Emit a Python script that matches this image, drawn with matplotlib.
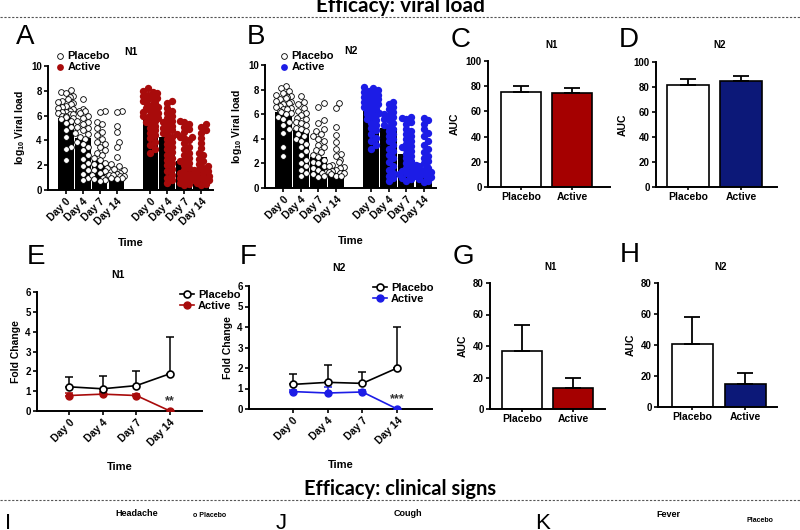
import numpy as np
import matplotlib
matplotlib.use("Agg")
import matplotlib.pyplot as plt
from matplotlib.lines import Line2D

plt.rcParams["font.family"] = ["Liberation Sans", "DejaVu Sans"]
plt.rcParams["font.weight"] = "bold"
plt.rcParams["mathtext.fontset"] = "custom"
plt.rcParams["mathtext.rm"] = "Liberation Sans:bold"
plt.rcParams["mathtext.bf"] = "Liberation Sans:bold"

W, H = 800, 530

days = ["Day 0", "Day 4", "Day 7", "Day 14"]
groups = ["Placebo", "Active"]

# viral load per subject (log10), panels A (N1) and B (N2)
n1_placebo = [
    [8.1, 7.9, 7.8, 7.6, 7.5, 7.3, 7.2, 7.1, 7.0, 6.9, 6.8, 6.7, 6.6, 6.5, 6.4, 6.3, 6.3, 6.2, 6.1, 6.1,
     6.0, 6.0, 5.9, 5.8, 5.7, 5.6, 5.4, 5.1, 4.8, 4.3, 3.5, 3.3, 2.4],
    [7.3, 6.5, 6.4, 6.4, 6.2, 6.0, 5.8, 5.6, 5.5, 5.3, 5.1, 5.0, 4.8, 4.6, 4.5, 4.3, 4.1, 3.9, 3.7, 3.5,
     3.2, 2.8, 2.5, 2.2, 1.9, 1.6, 1.3, 1.0, 0.8],
    [6.4, 6.3, 5.5, 5.3, 5.0, 4.7, 4.4, 4.1, 3.9, 3.7, 3.5, 3.2, 3.0, 2.8, 2.6, 2.4, 2.2, 2.1, 1.9, 1.8,
     1.6, 1.5, 1.4, 1.2, 1.1, 1.0, 0.9, 0.8, 0.7],
    [6.4, 6.3, 5.2, 4.7, 3.9, 3.5, 2.7, 2.1, 1.9, 1.7, 1.6, 1.4, 1.3, 1.2, 1.2, 1.1, 1.1, 1.0, 1.0, 0.9],
]
n1_active = [
    [8.2, 8.0, 7.9, 7.8, 7.7, 7.6, 7.5, 7.4, 7.3, 7.2, 7.1, 7.0, 6.9, 6.8, 6.7, 6.6, 6.5, 6.4, 6.3, 6.2,
     6.1, 6.0, 6.0, 5.9, 5.8, 5.7, 5.6, 5.5, 5.4, 5.2, 5.0, 4.8, 4.6, 4.4, 4.2, 3.9, 3.6, 3.3, 3.0],
    [7.2, 7.0, 6.6, 6.4, 6.2, 6.0, 5.8, 5.6, 5.5, 5.4, 5.2, 5.0, 4.9, 4.8, 4.6, 4.5, 4.3, 4.1, 3.9, 3.7,
     3.5, 3.3, 3.1, 2.8, 2.6, 2.4, 2.2, 2.0, 1.7, 1.5, 1.2, 1.0, 0.8, 0.6],
    [5.6, 5.5, 5.3, 5.1, 4.9, 4.7, 4.5, 4.3, 4.3, 4.2, 4.0, 3.8, 3.5, 3.3, 3.0, 2.8, 2.6, 2.4, 2.3, 2.2,
     2.0, 1.8, 1.6, 1.4, 1.3, 1.2, 1.0, 0.9, 0.8, 0.6, 0.5, 0.4],
    [5.3, 5.1, 4.8, 4.6, 4.2, 3.8, 3.4, 3.0, 2.8, 2.5, 2.3, 2.1, 1.9, 1.8, 1.7, 1.6, 1.5, 1.4, 1.3, 1.2,
     1.1, 1.0, 1.0, 0.9, 0.8, 0.8, 0.7, 0.6, 0.5, 0.4],
]
n2_placebo = [
    [8.3, 8.1, 7.9, 7.7, 7.6, 7.5, 7.4, 7.3, 7.2, 7.1, 7.0, 6.9, 6.8, 6.7, 6.6, 6.5, 6.4, 6.4, 6.3, 6.2,
     6.1, 6.0, 5.8, 5.6, 5.4, 5.1, 4.8, 4.5, 3.3, 2.6],
    [7.5, 7.0, 6.8, 6.5, 6.3, 6.1, 5.9, 5.7, 5.6, 5.4, 5.3, 5.1, 4.9, 4.8, 4.6, 4.4, 4.2, 4.0, 3.8, 3.6,
     3.3, 3.0, 2.7, 2.3, 2.0, 1.8, 1.5, 1.2, 1.0],
    [6.9, 6.6, 5.5, 5.3, 4.8, 4.6, 4.4, 4.2, 4.0, 3.8, 3.5, 3.3, 3.1, 2.9, 2.7, 2.5, 2.3, 2.1, 2.0, 1.8,
     1.6, 1.5, 1.3, 1.2, 1.1, 1.0, 0.9],
    [6.9, 6.5, 5.0, 4.3, 3.7, 3.2, 2.8, 2.6, 2.3, 2.1, 1.9, 1.8, 1.7, 1.6, 1.5, 1.4, 1.3, 1.2, 1.2, 1.1,
     1.0, 1.0],
]
n2_active = [
    [8.2, 8.1, 8.0, 7.9, 7.8, 7.7, 7.6, 7.5, 7.4, 7.3, 7.2, 7.1, 7.0, 6.9, 6.8, 6.7, 6.6, 6.5, 6.4, 6.3,
     6.2, 6.1, 6.0, 5.9, 5.8, 5.6, 5.5, 5.3, 5.1, 4.9, 4.7, 4.4, 4.1, 3.8, 3.5, 3.2],
    [7.0, 6.8, 6.6, 6.4, 6.2, 6.0, 5.9, 5.8, 5.6, 5.5, 5.3, 5.1, 5.0, 4.8, 4.6, 4.4, 4.2, 4.0, 3.8, 3.5,
     3.2, 3.0, 2.7, 2.4, 2.1, 1.8, 1.5, 1.2, 1.0, 0.8, 0.6],
    [5.8, 5.7, 5.6, 5.4, 5.2, 4.8, 4.6, 4.4, 4.2, 4.0, 3.8, 3.6, 3.4, 3.3, 3.2, 3.0, 2.8, 2.6, 2.4, 2.2,
     2.0, 1.8, 1.6, 1.5, 1.4, 1.3, 1.2, 1.1, 1.0, 0.9, 0.8, 0.7, 0.6],
    [5.7, 5.5, 5.2, 4.8, 4.5, 4.2, 3.8, 3.5, 3.2, 2.9, 2.6, 2.4, 2.2, 2.0, 1.9, 1.8, 1.7, 1.6, 1.5, 1.4,
     1.3, 1.2, 1.1, 1.0, 1.0, 0.9, 0.8, 0.7, 0.6, 0.5],
]
# bar heights (group means)
n1_bar_placebo = [5.8, 4.2, 2.3, 1.25]
n1_bar_active = [5.95, 4.3, 2.3, 1.5]
n2_bar_placebo = [6.2, 4.75, 2.5, 1.45]
n2_bar_active = [6.3, 4.9, 2.8, 1.6]

# AUC viral load (C, D)
auc_vl_n1 = [75.5, 74.5]
auc_vl_n1_err = [4.5, 3.8]
auc_vl_n2 = [82.0, 84.5]
auc_vl_n2_err = [4.2, 4.0]

# fold change (E, F)
fc_n1_placebo = [1.22, 1.12, 1.28, 1.88]
fc_n1_placebo_err = [0.50, 0.63, 0.74, 1.84]
fc_n1_active = [0.78, 0.85, 0.78, 0.0]
fc_n1_active_err = [0.12, 0.10, 0.10, 0.0]
fc_n2_placebo = [1.2, 1.3, 1.25, 2.0]
fc_n2_placebo_err = [0.5, 0.85, 0.55, 2.0]
fc_n2_active = [0.85, 0.78, 0.83, 0.0]
fc_n2_active_err = [0.08, 0.27, 0.08, 0.0]

# AUC fold change (G, H)
auc_fc_n1 = [37.0, 13.5]
auc_fc_n1_err = [16.5, 6.5]
auc_fc_n2 = [40.5, 15.0]
auc_fc_n2_err = [17.5, 7.0]

red = "#a80b0b"
blue = "#1c1ce6"
navy = "#0c1878"

fig = plt.figure(figsize=(W / 100, H / 100), dpi=100)


def axes_px(x0, x1, y0, y1):
    return fig.add_axes([x0 / W, (H - y1) / H, (x1 - x0) / W, (y1 - y0) / H])


def style(ax, xsize=7):
    for s in ["top", "right"]:
        ax.spines[s].set_visible(False)
    for s in ["left", "bottom"]:
        ax.spines[s].set_linewidth(1.4)
    ax.tick_params(length=3, width=1.2, labelsize=7, pad=1.5)
    ax.tick_params(axis="x", labelsize=xsize)
    for lab in ax.get_xticklabels() + ax.get_yticklabels():
        lab.set_fontweight("bold")


def ftext(x, y, s, **kw):
    fig.text(x / W, (H - y) / H, s, **kw)


def letter(x, y, s):
    ftext(x, y, s, fontsize=20, fontweight="normal", va="center", ha="left")


def swarm(vals, center, ppx, ppy, d=5.0, half=7.5):
    vals = np.asarray(vals)
    xs = np.zeros(len(vals))
    placed = []
    for n, i in enumerate(np.argsort(vals)):
        y = vals[i] * ppy
        best = None
        for k in range(0, 8):
            for sgn in ([0] if k == 0 else [1, -1]):
                off = sgn * k * d * 0.5
                if abs(off) > half:
                    continue
                if all((off - px) ** 2 + (y - py) ** 2 >= d * d for px, py in placed):
                    best = off
                    break
            if best is not None:
                break
        if best is None:
            best = ((n % 5) - 2) * half / 2.0
        placed.append((best, y))
        xs[i] = center + best / ppx
    return xs


def viral_panel(x0, x1, y0, y1, bars_p, bars_a, pts_p, pts_a, col, title, leg_x):
    ax = axes_px(x0, x1, y0, y1)
    pos_p = np.arange(4)
    pos_a = np.arange(4) + 5
    ax.bar(pos_p, bars_p, width=0.93, color="black")
    ax.bar(pos_a, bars_a, width=0.93, color="black")
    ax.set_xlim(-1.05, 8.7)
    ax.set_ylim(0, 10)
    ppx = (x1 - x0) / 9.75
    ppy = (y1 - y0) / 10.0
    for i in range(4):
        xs = swarm(pts_p[i], pos_p[i], ppx, ppy, d=5.2)
        ax.scatter(xs, pts_p[i], s=17, facecolor="white", edgecolor="black", linewidth=0.6, zorder=3)
        xs = swarm(pts_a[i], pos_a[i], ppx, ppy, d=4.6)
        ax.scatter(xs, pts_a[i], s=28, color=col, linewidth=0, zorder=3)
    ax.set_yticks([0, 2, 4, 6, 8, 10])
    ax.set_xticks(list(pos_p) + list(pos_a))
    ax.set_xticklabels(days + days, rotation=45, ha="right", rotation_mode="anchor")
    style(ax, 7.5)
    ax.set_ylabel(r"log$_{\mathbf{10}}$ Viral load", fontsize=7.5, fontweight="bold", labelpad=3)
    ax.set_title(title, fontsize=7.5, fontweight="bold", pad=8)
    ax.set_xlabel("Time", fontsize=8, fontweight="bold", labelpad=8)
    hp = ax.scatter([], [], s=17, facecolor="white", edgecolor="black", linewidth=0.6)
    ha = ax.scatter([], [], s=24, color=col, linewidth=0)
    ax.legend([hp, ha], groups, loc="upper left", bbox_to_anchor=(leg_x / W, (H - 51) / H),
              bbox_transform=fig.transFigure, frameon=False, handletextpad=0.2,
              labelspacing=0.05, borderpad=0, borderaxespad=0, handlelength=1.0,
              prop={"weight": "bold", "size": 8})
    return ax


def auc_panel(x0, x1, y0, y1, vals, errs, col, ymax, yticks, xlim, title, title_y):
    ax = axes_px(x0, x1, y0, y1)
    ax.bar([0, 1], vals, width=0.78, color=["white", col], edgecolor="black", linewidth=1.2)
    ax.errorbar([0, 1], vals, yerr=[[0, 0], errs], fmt="none", ecolor="black", elinewidth=1.3,
                capsize=6, capthick=1.3)
    ax.set_xlim(*xlim)
    ax.set_ylim(0, ymax)
    ax.set_yticks(yticks)
    ax.set_xticks([0, 1])
    ax.set_xticklabels(groups)
    style(ax, 7.5)
    ax.tick_params(axis="x", length=2)
    ax.set_ylabel("AUC", fontsize=7.5, fontweight="bold", labelpad=4)
    ftext((x0 + x1) / 2 + 3, title_y, title, fontsize=7, fontweight="bold", ha="center", va="center")
    return ax


def fold_panel(x0, x1, y0, y1, xlim, p, pe, a, ae, col, stars, title, leg_xy, title_y):
    ax = axes_px(x0, x1, y0, y1)
    x = np.arange(4)
    ax.errorbar(x, p, yerr=[np.zeros(4), pe], fmt="none", ecolor="black", elinewidth=1.1,
                capsize=3, capthick=1.1, zorder=2)
    ax.errorbar(x, a, yerr=[np.zeros(4), ae], fmt="none", ecolor=col, elinewidth=1.1,
                capsize=3, capthick=1.1, zorder=2)
    ax.plot(x, p, color="black", lw=1.2, marker="o", ms=5, mfc="white", mec="black", mew=1.2,
            label=groups[0], zorder=4)
    ax.plot(x, a, color=col, lw=1.2, marker="o", ms=5, mfc=col, mec=col, label=groups[1], zorder=3)
    ax.text(3, 0.2, stars, ha="center", va="bottom", fontsize=9, fontweight="bold", color="#333333")
    ax.set_xlim(*xlim)
    ax.set_ylim(0, 6)
    ax.set_yticks(range(7))
    ax.set_xticks(x)
    ax.set_xticklabels(days, rotation=45, ha="right", rotation_mode="anchor")
    style(ax, 7.5)
    ax.set_ylabel("Fold Change", fontsize=7.5, fontweight="bold", labelpad=3)
    ax.set_xlabel("Time", fontsize=8, fontweight="bold", labelpad=10)
    ftext((x0 + x1) / 2 - 2, title_y, title, fontsize=7.5, fontweight="bold", ha="center", va="center")
    ax.legend(loc="upper left", bbox_to_anchor=(leg_xy[0] / W, (H - leg_xy[1]) / H),
              bbox_transform=fig.transFigure, frameon=False, handletextpad=0.3, labelspacing=0.05,
              borderpad=0, borderaxespad=0, handlelength=1.3, prop={"weight": "bold", "size": 8})
    return ax


# headers and separators
ftext(400, 12, "Efficacy: viral load", fontsize=15, fontweight="bold", ha="center", va="baseline",
      family=["Lato", "DejaVu Sans"])
ftext(400, 495, "Efficacy: clinical signs", fontsize=14.5, fontweight="bold", ha="center",
      va="baseline", family=["Lato", "DejaVu Sans"])
for yy in [17, 500]:
    fig.add_artist(Line2D([0, 1], [(H - yy) / H] * 2, transform=fig.transFigure, color="#555555",
                          lw=0.8, ls=(0, (2, 1.5))))

viral_panel(48, 213, 66, 190, n1_bar_placebo, n1_bar_active, n1_placebo, n1_active, red, "N1", 54)
viral_panel(265, 436, 65, 188, n2_bar_placebo, n2_bar_active, n2_placebo, n2_active, blue, "N2", 278)

auc_panel(488, 610, 61, 187, auc_vl_n1, auc_vl_n1_err, "#a50000", 100, range(0, 101, 20),
          (-0.65, 1.75), "N1", 45)
auc_panel(656, 777, 62, 187, auc_vl_n2, auc_vl_n2_err, navy, 100, range(0, 101, 20),
          (-0.6, 1.67), "N2", 45)

fold_panel(37, 202, 292, 411, (-0.95, 3.95), fc_n1_placebo, fc_n1_placebo_err, fc_n1_active,
           fc_n1_active_err, red, "**", "N1", (180, 290), 275)
fold_panel(249, 432, 286, 409, (-1.26, 4.0), fc_n2_placebo, fc_n2_placebo_err, fc_n2_active,
           fc_n2_active_err, blue, "***", "N2", (373, 283), 268)

auc_panel(490, 605, 283, 409, auc_fc_n1, auc_fc_n1_err, "#a50000", 80, range(0, 81, 20),
          (-0.63, 1.63), "N1", 267)
auc_panel(658, 777, 283, 407, auc_fc_n2, auc_fc_n2_err, navy, 80, range(0, 81, 20),
          (-0.65, 1.6), "N2", 267)

# panel letters
letter(16, 37, "A")
letter(247, 37, "B")
letter(451, 40, "C")
letter(619, 40, "D")
letter(27, 257, "E")
letter(240, 257, "F")
letter(453, 257, "G")
letter(620, 255, "H")

# clinical signs strip (cut off at the bottom edge)
ftext(5, 513, "I", fontsize=16, fontweight="normal", va="top")
ftext(137, 509, "Headache", fontsize=6.5, fontweight="bold", ha="center", va="top")
ftext(210, 512, "o Placebo", fontsize=5, fontweight="bold", ha="center", va="top")
ftext(276, 513, "J", fontsize=16, fontweight="normal", va="top")
ftext(408, 509, "Cough", fontsize=6.5, fontweight="bold", ha="center", va="top")
ftext(535, 513, "K", fontsize=16, fontweight="normal", va="top")
ftext(668, 510, "Fever", fontsize=6.5, fontweight="bold", ha="center", va="top")
ftext(760, 517, "Placebo", fontsize=5, fontweight="bold", ha="center", va="top")

fig.savefig("out.png", dpi=100)
